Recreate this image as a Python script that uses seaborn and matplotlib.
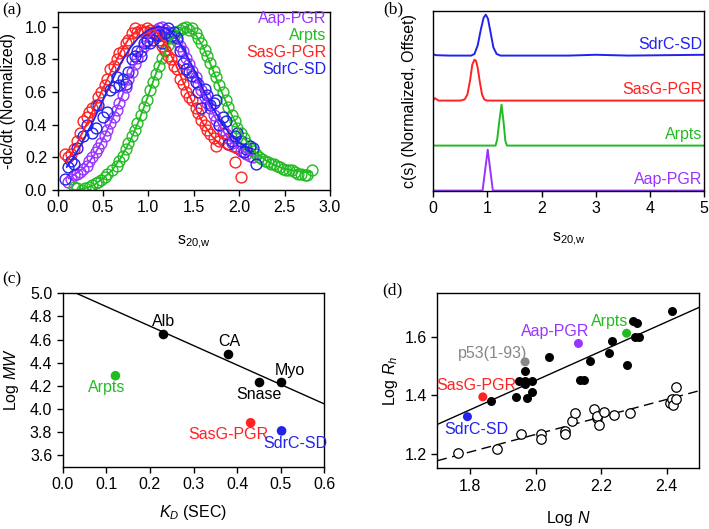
import numpy as np
import matplotlib
matplotlib.use("Agg")
import matplotlib.pyplot as plt
import seaborn as sns

# ---------------- Panel (a) data: -dc/dt (normalized) vs s20,w ----------------
aap_s = [0.12, 0.15, 0.18, 0.22, 0.25, 0.28, 0.32, 0.35, 0.38, 0.42, 0.45, 0.48, 0.52, 0.55, 0.58,
         0.62, 0.65, 0.68, 0.72, 0.75, 0.78, 0.82, 0.85, 0.88, 0.92, 0.95, 0.98, 1.02, 1.05, 1.08,
         1.12, 1.15, 1.18, 1.22, 1.25, 1.28, 1.32, 1.35, 1.38, 1.42, 1.45, 1.48, 1.52, 1.55, 1.58,
         1.62, 1.65, 1.68, 1.72, 1.75, 1.78, 1.82, 1.85, 1.88, 1.92, 1.95, 1.98, 2.02, 2.05, 2.08,
         2.12, 2.15]
aap_v = [0.05, 0.07, 0.09, 0.10, 0.11, 0.13, 0.15, 0.18, 0.20, 0.23, 0.26, 0.29, 0.33, 0.37, 0.41,
         0.45, 0.49, 0.53, 0.58, 0.63, 0.68, 0.72, 0.77, 0.81, 0.85, 0.88, 0.91, 0.94, 0.96, 0.98,
         0.99, 1.00, 0.98, 0.97, 0.96, 0.94, 0.91, 0.88, 0.85, 0.81, 0.77, 0.73, 0.69, 0.65, 0.61,
         0.57, 0.53, 0.50, 0.46, 0.43, 0.40, 0.37, 0.34, 0.32, 0.29, 0.27, 0.26, 0.24, 0.23, 0.22,
         0.21, 0.20]
arpts_s = [0.18, 0.22, 0.27, 0.30, 0.35, 0.38, 0.42, 0.45, 0.48, 0.52, 0.55, 0.60, 0.65, 0.68, 0.72,
           0.75, 0.78, 0.82, 0.85, 0.88, 0.92, 0.95, 0.98, 1.02, 1.05, 1.08, 1.12, 1.15, 1.18, 1.22,
           1.25, 1.28, 1.32, 1.35, 1.38, 1.42, 1.45, 1.48, 1.52, 1.55, 1.58, 1.62, 1.65, 1.68, 1.72,
           1.75, 1.78, 1.82, 1.85, 1.88, 1.92, 1.95, 1.98, 2.02, 2.05, 2.08, 2.12, 2.15, 2.18, 2.22,
           2.25, 2.28, 2.32, 2.35, 2.38, 2.42, 2.45, 2.48, 2.52, 2.55, 2.58, 2.62, 2.65, 2.68, 2.72,
           2.75, 2.80]
arpts_v = [0.02, 0.01, 0.00, 0.01, 0.02, 0.03, 0.04, 0.05, 0.06, 0.08, 0.10, 0.12, 0.15, 0.18, 0.21,
           0.25, 0.29, 0.33, 0.37, 0.41, 0.46, 0.51, 0.55, 0.61, 0.66, 0.71, 0.76, 0.81, 0.85, 0.89,
           0.93, 0.95, 0.97, 0.98, 0.99, 1.00, 0.98, 0.99, 0.96, 0.93, 0.90, 0.86, 0.82, 0.78, 0.73,
           0.69, 0.64, 0.60, 0.55, 0.51, 0.46, 0.42, 0.38, 0.35, 0.32, 0.29, 0.26, 0.24, 0.22, 0.20,
           0.19, 0.18, 0.17, 0.16, 0.16, 0.15, 0.14, 0.13, 0.12, 0.12, 0.12, 0.11, 0.10, 0.10, 0.09,
           0.09, 0.12]
sasg_s = [0.08, 0.12, 0.15, 0.18, 0.22, 0.25, 0.28, 0.32, 0.35, 0.38, 0.42, 0.45, 0.48, 0.52, 0.55,
          0.58, 0.62, 0.65, 0.68, 0.72, 0.75, 0.78, 0.82, 0.85, 0.88, 0.92, 0.95, 0.98, 1.02, 1.05,
          1.08, 1.12, 1.15, 1.18, 1.22, 1.25, 1.28, 1.32, 1.35, 1.38, 1.42, 1.45, 1.48, 1.52, 1.55,
          1.58, 1.62, 1.65, 1.68, 1.72, 1.75, 1.78, 1.82, 1.88, 1.95, 2.02]
sasg_v = [0.22, 0.20, 0.22, 0.25, 0.30, 0.35, 0.42, 0.45, 0.48, 0.50, 0.52, 0.57, 0.60, 0.64, 0.68,
          0.74, 0.76, 0.80, 0.84, 0.85, 0.90, 0.92, 0.96, 0.99, 0.97, 0.98, 0.97, 0.99, 0.98, 0.97,
          0.96, 0.92, 0.88, 0.86, 0.82, 0.80, 0.76, 0.74, 0.68, 0.65, 0.60, 0.57, 0.55, 0.50, 0.47,
          0.43, 0.40, 0.37, 0.34, 0.32, 0.27, 0.30, 0.35, 0.28, 0.17, 0.08]
sdrc_s = [0.08, 0.12, 0.15, 0.18, 0.22, 0.28, 0.32, 0.38, 0.42, 0.45, 0.50, 0.55, 0.58, 0.62, 0.65,
          0.68, 0.72, 0.75, 0.78, 0.82, 0.85, 0.88, 0.92, 0.95, 0.98, 1.02, 1.05, 1.08, 1.12, 1.15,
          1.18, 1.22, 1.25, 1.28, 1.32, 1.35, 1.38, 1.42, 1.45, 1.48, 1.52, 1.55, 1.58, 1.62, 1.65,
          1.68, 1.72, 1.75, 1.78, 1.82, 1.85, 1.88, 1.92, 1.95, 1.98, 2.02, 2.05, 2.08, 2.12, 2.15,
          2.18]
sdrc_v = [0.07, 0.14, 0.18, 0.16, 0.26, 0.33, 0.40, 0.35, 0.38, 0.52, 0.45, 0.48, 0.61, 0.63, 0.69,
          0.64, 0.68, 0.65, 0.72, 0.80, 0.82, 0.85, 0.82, 0.90, 0.92, 0.90, 0.92, 0.95, 0.95, 0.90,
          0.96, 0.99, 0.94, 0.97, 0.93, 0.85, 0.78, 0.74, 0.72, 0.70, 0.66, 0.60, 0.50, 0.62, 0.58,
          0.52, 0.53, 0.55, 0.40, 0.45, 0.42, 0.28, 0.30, 0.33, 0.35, 0.30, 0.23, 0.25, 0.27, 0.26,
          0.16]
# fitted curves for panel (a)
aap_fit_s = [0.12, 0.2, 0.3, 0.4, 0.5, 0.6, 0.7, 0.8, 0.9, 1.0, 1.1, 1.2, 1.3, 1.4, 1.5, 1.6, 1.7,
             1.8, 1.9, 2.0, 2.1, 2.15]
aap_fit_v = [0.07, 0.10, 0.14, 0.21, 0.31, 0.43, 0.56, 0.70, 0.83, 0.93, 0.99, 0.99, 0.93, 0.84,
             0.72, 0.59, 0.48, 0.38, 0.30, 0.25, 0.22, 0.21]
arpts_fit_s = [0.15, 0.2, 0.3, 0.4, 0.5, 0.6, 0.7, 0.8, 0.9, 1.0, 1.1, 1.2, 1.3, 1.4, 1.5, 1.6, 1.7,
               1.8, 1.9, 2.0, 2.1, 2.2, 2.3, 2.4, 2.5, 2.6, 2.7, 2.8]
arpts_fit_v = [0.005, 0.0, 0.01, 0.03, 0.07, 0.12, 0.20, 0.30, 0.43, 0.58, 0.74, 0.87, 0.96, 1.00,
               0.97, 0.88, 0.75, 0.61, 0.48, 0.37, 0.28, 0.22, 0.18, 0.15, 0.13, 0.12, 0.11, 0.11]
sasg_fit_s = [0.1, 0.2, 0.3, 0.4, 0.5, 0.6, 0.7, 0.8, 0.9, 1.0, 1.1, 1.2, 1.3, 1.4, 1.5, 1.6, 1.7,
              1.8, 1.9, 2.0]
sasg_fit_v = [0.17, 0.27, 0.38, 0.50, 0.62, 0.74, 0.85, 0.94, 0.99, 1.00, 0.96, 0.88, 0.77, 0.64,
              0.52, 0.41, 0.33, 0.27, 0.24, 0.22]
sdrc_fit_s = [0.1, 0.2, 0.3, 0.4, 0.5, 0.6, 0.7, 0.8, 0.9, 1.0, 1.1, 1.2, 1.3, 1.4, 1.5, 1.6, 1.7,
              1.8, 1.9, 2.0, 2.1, 2.15]
sdrc_fit_v = [0.14, 0.22, 0.32, 0.43, 0.55, 0.67, 0.78, 0.87, 0.94, 0.98, 1.00, 0.99, 0.94, 0.85,
              0.74, 0.62, 0.51, 0.42, 0.34, 0.29, 0.26, 0.25]

# ---------------- Panel (b) data: c(s) distributions ----------------
cs_aap_s = [0.0, 0.91, 1.005, 1.10, 5.0]
cs_aap_v = [0.0, 0.0, 1.0, 0.0, 0.0]
cs_arpts_s = [0.0, 1.15, 1.18, 1.22, 1.26, 1.30, 1.33, 1.36, 5.0]
cs_arpts_v = [0.0, 0.0, 0.15, 0.60, 1.00, 0.55, 0.12, 0.0, 0.0]
cs_sasg_s = [0.0, 0.03, 0.06, 0.10, 0.50, 0.58, 0.63, 0.68, 0.72, 0.76, 0.79, 0.82, 0.86, 0.90,
             0.94, 0.99, 5.0]
cs_sasg_v = [0.02, 0.06, 0.03, 0.0, 0.0, 0.03, 0.15, 0.50, 0.88, 1.00, 0.97, 0.80, 0.45, 0.15,
             0.03, 0.0, 0.0]
cs_sdrc_s = [0.0, 0.05, 0.3, 0.70, 0.76, 0.82, 0.88, 0.93, 0.97, 1.01, 1.06, 1.11, 1.17, 1.24,
             2.5, 3.0, 3.6, 5.0]
cs_sdrc_v = [0.03, 0.01, 0.0, 0.0, 0.04, 0.25, 0.65, 0.93, 1.00, 0.90, 0.55, 0.20, 0.04, 0.0,
             0.0, 0.02, 0.0, 0.02]

# ---------------- Panel (c) data: log MW vs KD (SEC) ----------------
std_names = ["Alb", "CA", "Snase", "Myo"]
std_kd = [0.231, 0.378, 0.451, 0.500]
std_logmw = [4.648, 4.478, 4.230, 4.230]
prot_names_c = ["Arpts", "SasG-PGR", "SdrC-SD"]
prot_kd = [0.121, 0.431, 0.502]
prot_logmw = [4.287, 3.880, 3.810]

# ---------------- Panel (d) data: log Rh vs log N ----------------
idp_logn = [1.864, 1.940, 1.948, 1.968, 1.968, 1.968, 1.973, 1.988, 1.988, 2.042, 2.136, 2.148,
            2.166, 2.225, 2.233, 2.278, 2.299, 2.309, 2.304, 2.316, 2.418]
idp_logrh = [1.380, 1.395, 1.449, 1.484, 1.438, 1.449, 1.390, 1.449, 1.411, 1.530, 1.452, 1.452,
             1.518, 1.545, 1.585, 1.504, 1.654, 1.647, 1.599, 1.599, 1.691]
fold_logn = [1.764, 1.881, 1.956, 2.017, 2.017, 2.090, 2.090, 2.111, 2.121, 2.179, 2.187, 2.187,
             2.195, 2.210, 2.241, 2.289, 2.411, 2.416, 2.421, 2.428, 2.429]
fold_logrh = [1.202, 1.217, 1.269, 1.269, 1.251, 1.277, 1.268, 1.311, 1.340, 1.354, 1.323, 1.331,
              1.300, 1.344, 1.332, 1.340, 1.375, 1.386, 1.366, 1.429, 1.386]
prot_names_d = ["SdrC-SD", "SasG-PGR", "p53(1-93)", "Aap-PGR", "Arpts"]
prot_logn = [1.792, 1.839, 1.968, 2.131, 2.278]
prot_logrh = [1.327, 1.395, 1.515, 1.578, 1.613]
idp_fit = [0.502, 0.447]     # slope, intercept (log Rh = a log N + b)
fold_fit = [0.300, 0.666]

# ---------------- Style ----------------
sns.set_theme(style="ticks")
plt.rcParams['font.family'] = ['Liberation Sans', 'DejaVu Sans']
FS = 11.5
plt.rcParams.update({
    'mathtext.fontset': 'custom',
    'mathtext.rm': 'Liberation Sans',
    'mathtext.it': 'Liberation Sans:italic',
    'mathtext.bf': 'Liberation Sans:bold',
    'axes.edgecolor': 'black',
    'axes.linewidth': 1.0,
    'xtick.color': 'black', 'ytick.color': 'black',
    'xtick.direction': 'out', 'ytick.direction': 'out',
    'xtick.major.size': 4, 'ytick.major.size': 4,
    'xtick.major.width': 1, 'ytick.major.width': 1,
    'xtick.labelsize': FS, 'ytick.labelsize': FS,
    'axes.labelsize': FS, 'axes.labelcolor': 'black',
})

PURPLE = '#9933FF'
GREEN = '#22BB22'
RED = '#FF2222'
BLUE = '#2222EE'
GRAY = '#888888'

W, H = 709, 529
fig = plt.figure(figsize=(W / 100, H / 100), dpi=100)


def add_ax(l, t, r, b):
    return fig.add_axes([l / W, 1 - b / H, (r - l) / W, (b - t) / H])


ax_a = add_ax(57.5, 12, 330, 190)
ax_b = add_ax(433.3, 11, 704, 191)
ax_c = add_ax(62.7, 293.3, 324.3, 466.7)
ax_d = add_ax(437.3, 293.3, 699.3, 468.3)

for ax in (ax_a, ax_b, ax_c, ax_d):
    for sp in ax.spines.values():
        sp.set_visible(True)
        sp.set_color('black')
        sp.set_linewidth(1.0)

# ---------------- Panel (a) ----------------
series_a = [
    (aap_s, aap_v, aap_fit_s, aap_fit_v, PURPLE),
    (arpts_s, arpts_v, arpts_fit_s, arpts_fit_v, GREEN),
    (sasg_s, sasg_v, sasg_fit_s, sasg_fit_v, RED),
    (sdrc_s, sdrc_v, sdrc_fit_s, sdrc_fit_v, BLUE),
]
for xs, ys, fx, fy, c in series_a:
    sns.lineplot(x=xs, y=ys, ax=ax_a, estimator=None, sort=False, linestyle='none',
                 marker='o', markersize=7.8, markerfacecolor='none', markeredgecolor=c,
                 markeredgewidth=1.0, color=c)
for xs, ys, fx, fy, c in series_a:
    sns.lineplot(x=fx, y=fy, ax=ax_a, estimator=None, sort=False, color=c, linewidth=1.3)

ax_a.set_xlim(0, 3.0)
ax_a.set_ylim(0, 1.09)
ax_a.set_xticks(np.arange(0, 3.01, 0.5))
ax_a.set_xticklabels([f"{v:.1f}" for v in np.arange(0, 3.01, 0.5)])
ax_a.set_yticks(np.arange(0, 1.01, 0.2))
ax_a.set_yticklabels([f"{v:.1f}" for v in np.arange(0, 1.01, 0.2)])
ax_a.set_xlabel(r"s$_{\mathrm{20{,}w}}$", fontsize=FS, labelpad=13)
ax_a.set_ylabel("-dc/dt (Normalized)", fontsize=FS, labelpad=6)
for label, c, yf in [("Aap-PGR", PURPLE, 0.965), ("Arpts", GREEN, 0.868),
                     ("SasG-PGR", RED, 0.772), ("SdrC-SD", BLUE, 0.676)]:
    ax_a.text(0.985, yf, label, color=c, fontsize=FS, ha='right', va='center',
              transform=ax_a.transAxes)

# ---------------- Panel (b) ----------------
step = 1.1
series_b = [
    ("Aap-PGR", cs_aap_s, cs_aap_v, PURPLE),
    ("Arpts", cs_arpts_s, cs_arpts_v, GREEN),
    ("SasG-PGR", cs_sasg_s, cs_sasg_v, RED),
    ("SdrC-SD", cs_sdrc_s, cs_sdrc_v, BLUE),
]
for i, (name, xs, ys, c) in enumerate(series_b):
    yy = np.asarray(ys) + i * step
    sns.lineplot(x=xs, y=yy, ax=ax_b, estimator=None, sort=False, color=c, linewidth=1.4)
    ax_b.text(4.97, i * step + 0.08, name, color=c, fontsize=FS, ha='right', va='bottom')
ax_b.set_xlim(0, 5)
ax_b.set_ylim(-0.01, 4.39)
ax_b.set_xticks(range(0, 6))
ax_b.set_yticks([])
ax_b.set_xlabel(r"s$_{\mathrm{20{,}w}}$", fontsize=FS, labelpad=10)
ax_b.set_ylabel("c(s) (Normalized, Offset)", fontsize=FS, labelpad=12)

# ---------------- Panel (c) ----------------
slope_c, icpt_c = np.polyfit(std_kd, std_logmw, 1)
ax_c.set_xlim(0, 0.6)
ax_c.set_ylim(3.5, 5.0)
line_x = np.array(ax_c.get_xlim())
sns.lineplot(x=line_x, y=slope_c * line_x + icpt_c, ax=ax_c, color='black', linewidth=1.0)
sns.scatterplot(x=std_kd, y=std_logmw, ax=ax_c, color='black', s=48, linewidth=0, zorder=3)
sns.scatterplot(x=prot_kd, y=prot_logmw, ax=ax_c, hue=prot_names_c,
                palette=[GREEN, RED, BLUE], s=48, linewidth=0, zorder=3, legend=False)
std_offsets = {"Alb": (0.0, 0.105), "CA": (0.005, 0.105), "Snase": (0.0, -0.105),
               "Myo": (0.022, 0.10)}
for n, x, y in zip(std_names, std_kd, std_logmw):
    dx, dy = std_offsets[n]
    ax_c.text(x + dx, y + dy, n, fontsize=FS, ha='center', va='center', color='black')
prot_offsets_c = {"Arpts": (-0.02, -0.105), "SasG-PGR": (-0.05, -0.105),
                  "SdrC-SD": (0.032, -0.105)}
for n, x, y, c in zip(prot_names_c, prot_kd, prot_logmw, [GREEN, RED, BLUE]):
    dx, dy = prot_offsets_c[n]
    ax_c.text(x + dx, y + dy, n, fontsize=FS, ha='center', va='center', color=c)
ax_c.set_xticks(np.arange(0, 0.61, 0.1))
ax_c.set_xticklabels([f"{v:.1f}" for v in np.arange(0, 0.61, 0.1)])
ax_c.set_yticks(np.arange(3.6, 5.01, 0.2))
ax_c.set_yticklabels([f"{v:.1f}" for v in np.arange(3.6, 5.01, 0.2)])
ax_c.set_xlabel(r"$K_D$ (SEC)", fontsize=FS, labelpad=8)
ax_c.set_ylabel(r"Log $MW$", fontsize=FS, labelpad=6)

# ---------------- Panel (d) ----------------
ax_d.set_xlim(1.7, 2.5)
ax_d.set_ylim(1.15, 1.75)
lx = np.array(ax_d.get_xlim())
sns.lineplot(x=lx, y=idp_fit[0] * lx + idp_fit[1], ax=ax_d, color='black', linewidth=1.0)
sns.lineplot(x=lx, y=fold_fit[0] * lx + fold_fit[1], ax=ax_d, color='black', linewidth=1.0,
             linestyle=(0, (7, 4)))
sns.scatterplot(x=idp_logn, y=idp_logrh, ax=ax_d, color='black', s=42, linewidth=0, zorder=3)
sns.lineplot(x=fold_logn, y=fold_logrh, ax=ax_d, estimator=None, sort=False, linestyle='none',
             marker='o', markersize=6.8, markerfacecolor='white', markeredgecolor='black',
             markeredgewidth=0.9, color='black', zorder=3)
prot_cols_d = [BLUE, RED, GRAY, PURPLE, GREEN]
sns.scatterplot(x=prot_logn, y=prot_logrh, ax=ax_d, hue=prot_names_d, palette=prot_cols_d,
                s=42, linewidth=0, zorder=4, legend=False)
prot_text_d = {"SdrC-SD": (1.82, 1.283), "SasG-PGR": (1.82, 1.435),
               "p53(1-93)": (1.868, 1.545), "Aap-PGR": (2.06, 1.620), "Arpts": (2.227, 1.654)}
for n, c in zip(prot_names_d, prot_cols_d):
    tx, ty = prot_text_d[n]
    ax_d.text(tx, ty, n, fontsize=FS, ha='center', va='center', color=c)
ax_d.set_xticks(np.arange(1.8, 2.41, 0.2))
ax_d.set_xticklabels([f"{v:.1f}" for v in np.arange(1.8, 2.41, 0.2)])
ax_d.set_yticks([1.2, 1.4, 1.6])
ax_d.set_yticklabels(["1.2", "1.4", "1.6"])
ax_d.set_xlabel(r"Log $N$", fontsize=FS, labelpad=11)
ax_d.set_ylabel(r"Log $R_h$", fontsize=FS, labelpad=3)

# panel labels
for lab, x, y in [("(a)", 2, 10), ("(b)", 383, 9), ("(c)", 2, 279), ("(d)", 382, 290)]:
    fig.text(x / W, 1 - y / H, lab, fontsize=12.5, family=['Liberation Serif', 'DejaVu Serif'],
             ha='left', va='center', color='black')

fig.savefig("out.png", dpi=100)
